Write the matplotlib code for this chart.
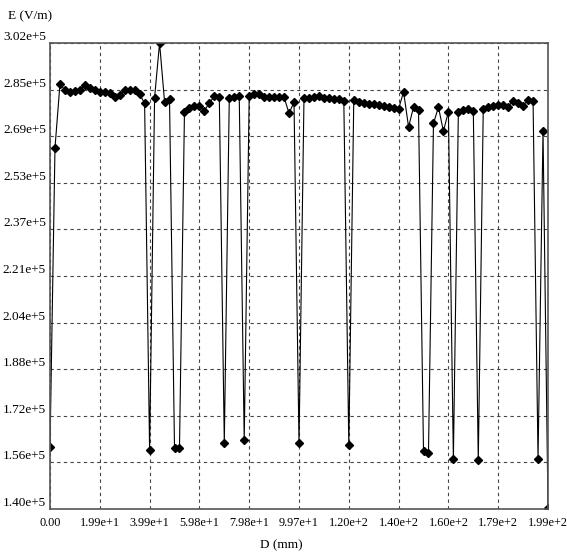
import numpy as np
import matplotlib
matplotlib.use("Agg")
import matplotlib.pyplot as plt

# Natezenie pola E (x1e5 V/m) w kolejnych punktach pomiaru
e_vals = [
    1.613, 2.653, 2.875, 2.854, 2.848, 2.852, 2.856, 2.872, 2.862, 2.854,
    2.848, 2.847, 2.845, 2.830, 2.837, 2.855, 2.854, 2.853, 2.840, 2.808,
    1.602, 2.828, 3.018, 2.814, 2.823, 1.610, 1.610, 2.777, 2.792, 2.800,
    2.800, 2.782, 2.810, 2.832, 2.830, 1.627, 2.826, 2.831, 2.833, 1.636,
    2.833, 2.839, 2.842, 2.831, 2.829, 2.829, 2.829, 2.829, 2.774, 2.812,
    1.625, 2.826, 2.828, 2.829, 2.835, 2.828, 2.825, 2.823, 2.823, 2.817,
    1.619, 2.820, 2.814, 2.811, 2.806, 2.805, 2.801, 2.799, 2.794, 2.791,
    2.789, 2.848, 2.726, 2.795, 2.784, 1.598, 1.593, 2.738, 2.795, 2.711,
    2.779, 1.571, 2.778, 2.784, 2.790, 2.783, 1.566, 2.789, 2.795, 2.799,
    2.803, 2.804, 2.797, 2.817, 2.809, 2.800, 2.820, 2.817, 1.571, 2.713,
    1.400,
]
d_max = 199.4  # mm, koniec osi
d_vals = np.linspace(0, d_max, len(e_vals))  # rowny krok pomiaru
e_min, e_max = 1.397e5, 3.018e5

x_labels = ['0.00', '1.99e+1', '3.99e+1', '5.98e+1', '7.98e+1', '9.97e+1',
            '1.20e+2', '1.40e+2', '1.60e+2', '1.79e+2', '1.99e+2']
y_labels = ['1.40e+5', '1.56e+5', '1.72e+5', '1.88e+5', '2.04e+5', '2.21e+5',
            '2.37e+5', '2.53e+5', '2.69e+5', '2.85e+5', '3.02e+5']

plt.rcParams['font.family'] = ['Liberation Serif', 'DejaVu Serif']

fig = plt.figure(figsize=(5.67, 5.54), dpi=100)
ax = fig.add_axes([50 / 567, 1 - 509 / 554, 498 / 567, 466 / 554])

ax.plot(d_vals, np.array(e_vals) * 1e5, color='black', linewidth=0.8,
        marker='D', markersize=4.4, markerfacecolor='black',
        markeredgecolor='black')

ax.set_xlim(0, d_max)
ax.set_ylim(e_min, e_max)
ax.set_xticks(np.linspace(0, d_max, len(x_labels)))
ax.set_xticklabels(x_labels)
ax.set_yticks(np.linspace(e_min, e_max, len(y_labels)))
ax.set_yticklabels(y_labels, va='bottom')

ax.tick_params(length=0, colors='black')
ax.tick_params(axis='x', pad=6, labelsize=8.8)
ax.tick_params(axis='y', pad=3, labelsize=9.5)

ax.grid(True, color='#444444', linestyle=(0, (3, 3)), linewidth=0.8)
for s in ax.spines.values():
    s.set_color('#555555')
    s.set_linewidth(1.2)

fig.text(30 / 567, 1 - 16 / 554, 'E (V/m)', ha='center', va='center', fontsize=9.5)
fig.text(281 / 567, 1 - 545 / 554, 'D (mm)', ha='center', va='center', fontsize=9.5)

plt.savefig('out.png', dpi=100)
